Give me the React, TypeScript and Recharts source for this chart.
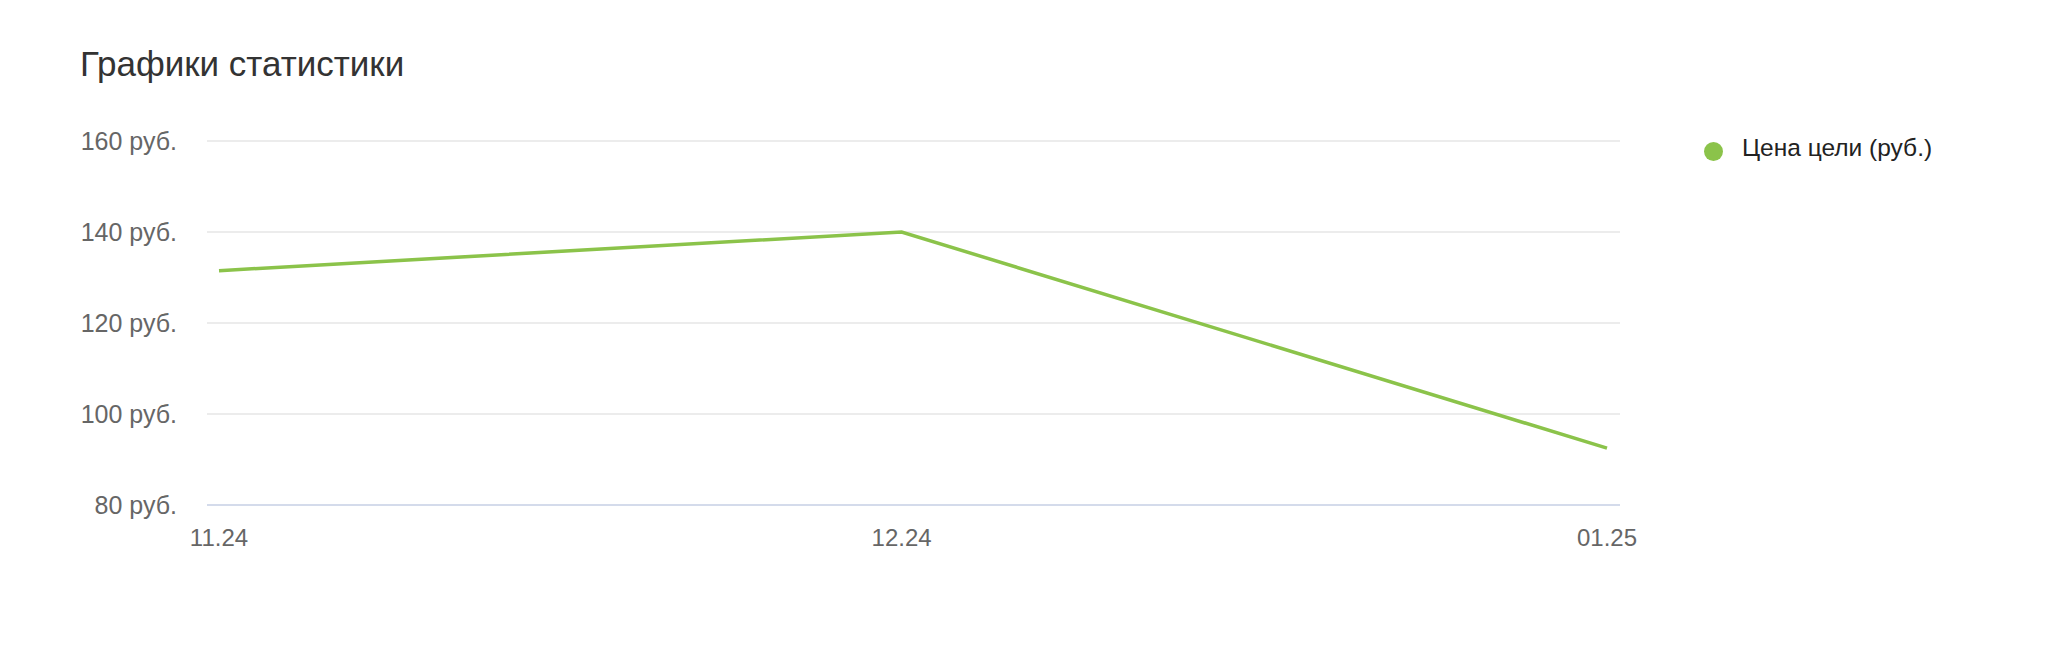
import { LineChart, Line, XAxis, YAxis, CartesianGrid, Legend } from 'recharts'

const dates = [Date.UTC(2024, 10, 1), Date.UTC(2024, 11, 1), Date.UTC(2025, 0, 1)]
const dateLabels = ['11.24', '12.24', '01.25']
const targetPrice = [131.5, 140, 92.5]
const yTicks = [80, 100, 120, 140, 160]

const data = dates.map((d, i) => ({ date: d, price: targetPrice[i] }))

const FONT = '"Liberation Sans", Arial, sans-serif'

export default function App() {
  return (
    <div style={{ position: 'absolute', left: 0, top: 0, width: 2048, height: 650, fontFamily: FONT, background: '#fff' }}>
      <div style={{ position: 'absolute', left: 80, top: 44, fontSize: 35, color: '#333' }}>
        Графики статистики
      </div>
      {/* legend is 300px wide and eats into the right margin */}
      <LineChart
        width={2048}
        height={650}
        data={data}
        margin={{ top: 141, right: 128, bottom: 85, left: 57 }}
      >
        <CartesianGrid vertical={false} stroke="#e6e6e6" strokeWidth={1.5} />
        <XAxis
          dataKey="date"
          type="number"
          domain={['dataMin', 'dataMax']}
          ticks={dates}
          tickFormatter={(v) => dateLabels[dates.indexOf(v)]}
          padding={{ left: 12, right: 13 }}
          height={60}
          tickLine={false}
          tickMargin={18}
          axisLine={{ stroke: '#ccd6eb', strokeWidth: 1.5 }}
          tick={{ fill: '#666', fontSize: 24, fontFamily: FONT }}
        />
        <YAxis
          domain={[80, 160]}
          ticks={yTicks}
          width={150}
          tickLine={false}
          axisLine={false}
          tickMargin={24}
          tickFormatter={(v) => `${v} руб.`}
          tick={{ fill: '#666', fontSize: 25, fontFamily: FONT }}
        />
        <Legend
          layout="vertical"
          verticalAlign="top"
          align="right"
          iconType="circle"
          iconSize={19}
          wrapperStyle={{ top: 134, left: 1704, width: 300, fontFamily: FONT }}
          formatter={(value) => (
            <span style={{ color: '#222', fontSize: 24.5, marginLeft: 15 }}>{value}</span>
          )}
        />
        <Line
          type="linear"
          dataKey="price"
          name="Цена цели (руб.)"
          stroke="#8bc34a"
          strokeWidth={3.5}
          dot={false}
          activeDot={false}
          isAnimationActive={false}
        />
      </LineChart>
    </div>
  )
}
